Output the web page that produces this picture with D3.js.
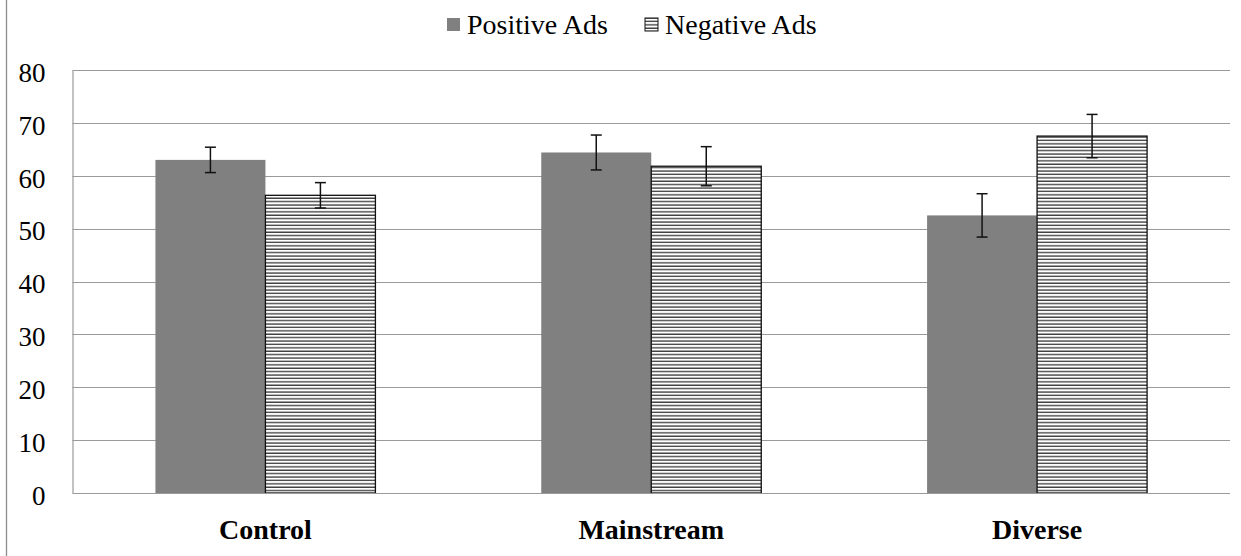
<!DOCTYPE html>
<html>
<head>
<meta charset="utf-8">
<script src="https://cdn.jsdelivr.net/npm/d3@7"></script>
<style>
  html, body { margin: 0; padding: 0; background: #fff; }
  svg { display: block; }
</style>
</head>
<body>
<svg id="chart" width="1241" height="556"></svg>
<script>
// Data
const categories = ["Control", "Mainstream", "Diverse"];
const seriesNames = ["Positive Ads", "Negative Ads"];
const positiveValues = [63.0, 64.4, 52.5];
const negativeValues = [56.3, 61.8, 67.5];
const positiveErrors = [2.4, 3.3, 4.1];
const negativeErrors = [2.4, 3.7, 4.1];
const yTicks = [0, 10, 20, 30, 40, 50, 60, 70, 80];

const FONT = "Tinos, 'Liberation Serif', 'Times New Roman', Times, 'Nimbus Roman', FreeSerif, 'DejaVu Serif', 'Noto Serif', Georgia, serif";

const rows = categories.map((c, i) => ({
  category: c,
  bars: [
    { series: seriesNames[0], value: positiveValues[i], err: positiveErrors[i] },
    { series: seriesNames[1], value: negativeValues[i], err: negativeErrors[i] }
  ]
}));

const svg = d3.select("#chart");
const W = 1241, H = 556;
const plot = { left: 72.5, right: 1230, top: 70, bottom: 493 };

// Hatch pattern for the negative series
const defs = svg.append("defs");
const pat = defs.append("pattern")
  .attr("id", "hatch")
  .attr("patternUnits", "userSpaceOnUse")
  .attr("width", 8).attr("height", 3.4);
pat.append("rect").attr("width", 8).attr("height", 3.4).attr("fill", "#fff");
pat.append("line")
  .attr("x1", 0).attr("x2", 8).attr("y1", 1).attr("y2", 1)
  .attr("stroke", "#111").attr("stroke-width", 1.1);

// Outer frame line on the left
svg.append("line")
  .attr("x1", 6.5).attr("x2", 6.5).attr("y1", 0).attr("y2", H)
  .attr("stroke", "#8c8c8c").attr("stroke-width", 1.3);

const y = d3.scaleLinear().domain([0, 80]).range([plot.bottom, plot.top]);
const x0 = d3.scaleBand().domain(categories).range([plot.left, plot.right]).padding(0);
const groupW = 220;
const x1 = d3.scaleBand().domain(seriesNames).range([0, groupW]).padding(0);

// Gridlines
svg.append("g")
  .selectAll("line")
  .data(yTicks.filter(t => t > 0))
  .join("line")
  .attr("x1", plot.left).attr("x2", plot.right)
  .attr("y1", d => Math.round(y(d)) + 0.5).attr("y2", d => Math.round(y(d)) + 0.5)
  .attr("stroke", "#9a9a9a").attr("stroke-width", 1.2);

// Y axis
const yAxis = svg.append("g")
  .attr("transform", `translate(${plot.left},0)`)
  .call(d3.axisLeft(y).tickValues(yTicks).tickSize(0).tickPadding(27));
yAxis.attr("font-family", FONT).attr("font-size", 27);
yAxis.select(".domain").attr("stroke", "#9a9a9a").attr("stroke-width", 1.2);
yAxis.selectAll("text")
  .style("font-family", FONT)
  .attr("font-size", 27)
  .attr("dy", "0.42em")
  .attr("fill", "#000");

// Bars
const groups = svg.append("g")
  .selectAll("g")
  .data(rows)
  .join("g")
  .attr("transform", d => `translate(${x0(d.category) + (x0.bandwidth() - groupW) / 2},0)`);

groups.selectAll("rect")
  .data(d => d.bars)
  .join("rect")
  .attr("x", d => x1(d.series))
  .attr("width", x1.bandwidth())
  .attr("y", d => y(d.value))
  .attr("height", d => y(0) - y(d.value))
  .attr("fill", d => d.series === seriesNames[0] ? "#808080" : "url(#hatch)")
  .attr("stroke", d => d.series === seriesNames[0] ? "none" : "#111")
  .attr("stroke-width", 1.3);

// Error bars
const eb = groups.selectAll("g.err")
  .data(d => d.bars)
  .join("g")
  .attr("class", "err")
  .attr("transform", d => `translate(${x1(d.series) + x1.bandwidth() / 2},0)`);
eb.append("line")
  .attr("x1", 0).attr("x2", 0)
  .attr("y1", d => y(d.value + d.err)).attr("y2", d => y(d.value - d.err))
  .attr("stroke", "#111").attr("stroke-width", 1.5);
eb.append("line")
  .attr("x1", -5.5).attr("x2", 5.5)
  .attr("y1", d => y(d.value + d.err)).attr("y2", d => y(d.value + d.err))
  .attr("stroke", "#111").attr("stroke-width", 1.5);
eb.append("line")
  .attr("x1", -5.5).attr("x2", 5.5)
  .attr("y1", d => y(d.value - d.err)).attr("y2", d => y(d.value - d.err))
  .attr("stroke", "#111").attr("stroke-width", 1.5);

// Baseline
svg.append("line")
  .attr("x1", plot.left).attr("x2", plot.right)
  .attr("y1", plot.bottom + 0.5).attr("y2", plot.bottom + 0.5)
  .attr("stroke", "#9a9a9a").attr("stroke-width", 1.2);

// Category labels
const xAxis = svg.append("g")
  .attr("transform", `translate(0,${plot.bottom})`)
  .call(d3.axisBottom(x0).tickSize(0).tickPadding(0));
xAxis.attr("font-family", FONT).attr("font-size", 28);
xAxis.select(".domain").remove();
xAxis.selectAll("text")
  .attr("y", 46)
  .attr("dy", 0)
  .style("font-family", FONT)
  .attr("font-size", 28)
  .attr("font-weight", "bold")
  .attr("fill", "#000");

// Legend
const legend = svg.append("g").attr("font-family", FONT).attr("font-size", 28);
const legendItems = [
  { name: seriesNames[0], x: 447, fill: "#808080", stroke: "none" },
  { name: seriesNames[1], x: 645, fill: "url(#hatch)", stroke: "#111" }
];
const li = legend.selectAll("g").data(legendItems).join("g")
  .attr("transform", d => `translate(${d.x},0)`);
li.append("rect")
  .attr("x", 0).attr("y", 18).attr("width", 13).attr("height", 13)
  .attr("fill", d => d.fill).attr("stroke", d => d.stroke).attr("stroke-width", 1);
li.append("text")
  .attr("x", 20).attr("y", 34)
  .style("font-family", FONT)
  .attr("font-size", 28)
  .attr("fill", "#000")
  .text(d => d.name);
</script>
</body>
</html>
